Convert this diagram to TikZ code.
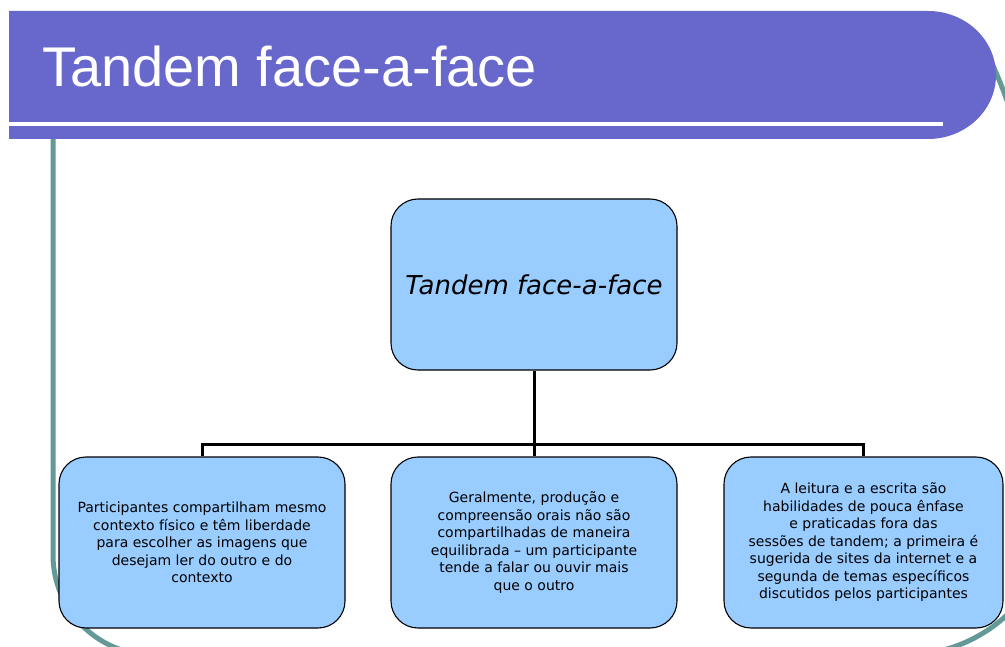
\documentclass[tikz,border=0pt]{standalone}
\usepackage{fontspec}
\setmainfont{DejaVu Sans}
\newfontfamily\titlefont{Liberation Sans}
\definecolor{barblue}{RGB}{104,104,204}
\definecolor{boxblue}{RGB}{153,204,255}
\definecolor{teal}{RGB}{99,153,150}
\begin{document}
\begin{tikzpicture}[x=1pt,y=-1pt,
  nodebox/.style={draw=black,line width=1.1pt,fill=boxblue,rounded corners=27pt,
    minimum height=171pt,align=center,inner sep=0pt,
    font=\fontsize{14}{17.5}\selectfont},
  conn/.style={draw=black,line width=3pt},
  framestyle/.style={draw=teal,line width=5pt}]
\useasboundingbox (0,0) rectangle (1005,647);
\begin{scope}
\clip (0,0) rectangle (1005,647);
% decorative teal frame
\draw[framestyle] (53,100) -- (53,555) .. controls (53,610.2) and (97.8,655) .. (153,655)
  -- (905,655) .. controls (987.8,655) and (1055,587.8) .. (1055,505);
\draw[framestyle] (985,50) .. controls (992,62) and (1002,85) .. (1012,115);
% title bar
\fill[barblue] (9,11) -- (928,11) .. controls (965.5,11) and (996,39.6) .. (996,75)
  .. controls (996,110.4) and (965.5,139) .. (928,139) -- (9,139) -- cycle;
\draw[white,line width=4pt] (9,124) -- (943,124);
\end{scope}
\node[anchor=base west,text=white,inner sep=0pt,font=\titlefont\fontsize{56}{62}\selectfont] (title) at (42,87) {Tandem face-a-face};
% boxes
\node[nodebox,minimum width=286pt,font=\itshape\fontsize{26}{30}\selectfont] (top) at (534,284.5) {Tandem face-a-face};
\node[nodebox,minimum width=286pt] (left) at (202,542.5) {Participantes compartilham mesmo\\contexto físico e têm liberdade\\para escolher as imagens que\\desejam ler do outro e do\\contexto};
\node[nodebox,minimum width=286pt] (mid) at (534,542.5) {Geralmente, produção e\\compreensão orais não são\\compartilhadas de maneira\\equilibrada – um participante\\tende a falar ou ouvir mais\\que o outro};
\node[nodebox,minimum width=279pt] (right) at (863.5,542.5) {A leitura e a escrita são\\habilidades de pouca ênfase\\e praticadas fora das\\sessões de tandem; a primeira é\\sugerida de sites da internet e a\\segunda de temas específicos\\discutidos pelos participantes};
% connectors
\coordinate (hb) at (534,444);
\draw[conn] (top.south) -- (mid.north);
\draw[conn] (left.north) |- (hb) -| (right.north);
\end{tikzpicture}
\end{document}
